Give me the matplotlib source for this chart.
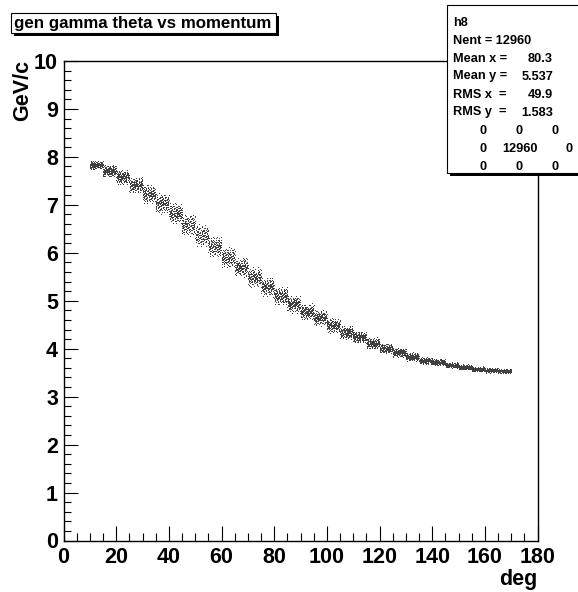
import numpy as np
import matplotlib
matplotlib.use("Agg")
import matplotlib.pyplot as plt
from matplotlib.patches import Rectangle

plt.rcParams["font.family"] = ["Liberation Sans", "DejaVu Sans"]
plt.rcParams["font.weight"] = "bold"

# theta bins (deg, 5 deg wide) and the momentum band in each bin (GeV/c)
theta_lo = [10, 15, 20, 25, 30, 35, 40, 45, 50, 55, 60, 65, 70, 75, 80, 85,
            90, 95, 100, 105, 110, 115, 120, 125, 130, 135, 140, 145, 150, 155, 160, 165]
p_center = [7.81, 7.69, 7.56, 7.39, 7.21, 7.01, 6.80, 6.57, 6.34, 6.11, 5.89, 5.68,
            5.47, 5.27, 5.08, 4.91, 4.75, 4.62, 4.47, 4.32, 4.22, 4.10, 3.99, 3.90,
            3.81, 3.73, 3.70, 3.64, 3.60, 3.56, 3.53, 3.51]
p_width = [0.15, 0.21, 0.25, 0.29, 0.33, 0.35, 0.36, 0.38, 0.38, 0.37, 0.35, 0.34,
           0.34, 0.33, 0.32, 0.31, 0.29, 0.27, 0.26, 0.24, 0.21, 0.19, 0.17, 0.16,
           0.14, 0.12, 0.11, 0.10, 0.09, 0.08, 0.08, 0.08]
bin_w = 5.0

stats_name = "h8"
stats_rows = [("Nent = 12960", ""), ("Mean x = ", "80.3"), ("Mean y = ", "5.537"),
              ("RMS x  = ", "49.9"), ("RMS y  = ", "1.583")]
ovf_grid = [["0", "0", "0"], ["0", "12960", "0"], ["0", "0", "0"]]

W, H = 578, 592
fig = plt.figure(figsize=(W / 100, H / 100), dpi=100)
fig.patch.set_facecolor("white")

x0, x1, ytop, ybot = 63.5, 537.5, 61.0, 540.5
ax = fig.add_axes([x0 / W, 1 - ybot / H, (x1 - x0) / W, (ybot - ytop) / H])

# scatter-style rendering: markers spread over each cell (R3 low-discrepancy points)
n_per_bin = 125
g = 1.2207440846057596
a = np.array([1 / g, 1 / g ** 2, 1 / g ** 3])
xs, ys = [], []
for k, (lo, c, w) in enumerate(zip(theta_lo, p_center, p_width)):
    n = np.arange(k * n_per_bin, (k + 1) * n_per_bin)[:, None]
    uvw = (0.5 + n * a) % 1.0
    xs.append(lo + bin_w * uvw[:, 0])
    ys.append(c + 0.5 * w * (uvw[:, 1] + uvw[:, 2] - 1.0) * 1.3)
ax.plot(np.concatenate(xs), np.concatenate(ys), ",", color="0.25")

ax.set_xlim(0, 180)
ax.set_ylim(0, 10)
ax.set_xticks(np.arange(0, 181, 20))
ax.set_xticks(np.arange(0, 181, 5), minor=True)
ax.set_yticks(np.arange(0, 11, 1))
ax.set_yticks(np.arange(0, 10.01, 0.2), minor=True)
ax.tick_params(axis="x", which="major", direction="in", length=11, width=0.8,
               labelsize=15.5, pad=5)
ax.tick_params(axis="x", which="minor", direction="in", length=5.5, width=0.8)
ax.tick_params(axis="y", which="major", direction="in", length=10, width=0.8,
               labelsize=15.5, pad=4)
ax.tick_params(axis="y", which="minor", direction="in", length=5, width=0.8)
for s in ax.spines.values():
    s.set_linewidth(1.0)

# overlay in pixel coordinates for boxes and labels
ov = fig.add_axes([0, 0, 1, 1], zorder=5)
ov.set_xlim(0, W)
ov.set_ylim(H, 0)
ov.axis("off")
ov.patch.set_alpha(0)

ov.text(22.5, 60, "GeV/c", rotation=90, ha="center", va="top",
        fontsize=15.5, fontweight="bold")
ov.text(537, 585, "deg", ha="right", va="baseline", fontsize=15.5, fontweight="bold")

# title box with shadow
ov.add_patch(Rectangle((14, 16), 265, 20, facecolor="black", edgecolor="none"))
ov.add_patch(Rectangle((11, 13), 265, 20, facecolor="white", edgecolor="black", lw=0.8))
ov.text(14, 23.5, "gen gamma theta vs momentum", ha="left", va="center",
        fontsize=12.2, fontweight="bold")

# stats box with shadow
ov.add_patch(Rectangle((450, 8), 140, 168, facecolor="black", edgecolor="none"))
ov.add_patch(Rectangle((447, 5), 140, 168, facecolor="white", edgecolor="black", lw=0.8))
ov.text(453, 22.5, stats_name, ha="left", va="center", fontsize=9.2, fontweight="bold")
for i, (lab, val) in enumerate(stats_rows):
    yy = 40.5 + 18 * i
    ov.text(453, yy, lab, ha="left", va="center", fontsize=9.2, fontweight="bold")
    if val:
        ov.text(553, yy, val, ha="right", va="center", fontsize=9.2, fontweight="bold")
col_x = [[483, 519, 555], [483, 520, 569], [483, 519, 555]]
for r, row in enumerate(ovf_grid):
    for c, txt in enumerate(row):
        ov.text(col_x[r][c], 130.5 + 18 * r, txt, ha="center", va="center",
                fontsize=9.2, fontweight="bold")

fig.savefig("out.png", dpi=100)
